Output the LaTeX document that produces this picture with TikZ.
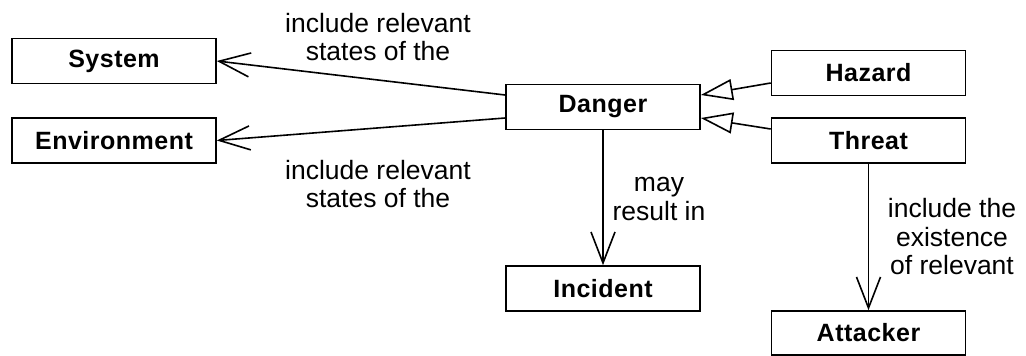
\documentclass[tikz,border=0pt]{standalone}
\usepackage{fontspec}
\setmainfont{Liberation Sans}
\newfontfamily\labelfont{Liberation Sans}
\newfontfamily\classfont[LetterSpace=2]{Liberation Sans Bold}
\usetikzlibrary{arrows.meta}
\begin{document}
\begin{tikzpicture}[x=1pt,y=-1pt,
  classbox/.style={draw, line width=1.6pt, inner sep=0pt,
    minimum width=194pt, minimum height=45pt,
    font=\classfont\fontsize{25}{28}\selectfont},
  lbl/.style={align=center, inner sep=0pt,
    font=\labelfont\fontsize{26.5}{28.5}\selectfont},
  assoc/.style={line width=1.6pt,
    -{Straight Barb[length=31pt, width=24pt, line width=1.6pt]}},
  generalize/.style={line width=1.6pt,
    -{Triangle[open, fill=white, length=32pt, width=21pt, line width=1.6pt]}}]
  \useasboundingbox (0,0) rectangle (1026,356);

  % classes
  \node[classbox, minimum width=204pt] (system) at (114,61) {System};
  \node[classbox, minimum width=204pt] (env) at (114,140.5) {Environment};
  \node[classbox] (danger) at (603,107) {Danger};
  \node[classbox] (hazard) at (868.5,73) {Hazard};
  \node[classbox] (threat) at (868.5,140.5) {Threat};
  \node[classbox] (incident) at (603,288.5) {Incident};
  \node[classbox, minimum height=44pt] (attacker) at (868.5,333) {Attacker};

  % associations
  \draw[assoc] ([yshift=12pt]danger.west) -- (system.east);
  \draw[assoc] ([yshift=-11pt]danger.west) -- (env.east);
  \draw[assoc] (danger.south) -- (incident.north);
  \draw[assoc] (threat.south) -- (attacker.north);

  % generalizations
  \draw[generalize] ([yshift=-10pt]hazard.west) -- ([yshift=12pt]danger.east);
  \draw[generalize] ([yshift=11.5pt]threat.west) -- ([yshift=-11pt]danger.east);

  % association labels
  \node[lbl] (l1) at (378,37) {include relevant\\states of the};
  \node[lbl] (l2) at (378,184) {include relevant\\states of the};
  \node[lbl] (l3) at (659,199) {may\\result in};
  \node[lbl] (l4) at (952,237) {include the\\existence\\of relevant};
\end{tikzpicture}
\end{document}
